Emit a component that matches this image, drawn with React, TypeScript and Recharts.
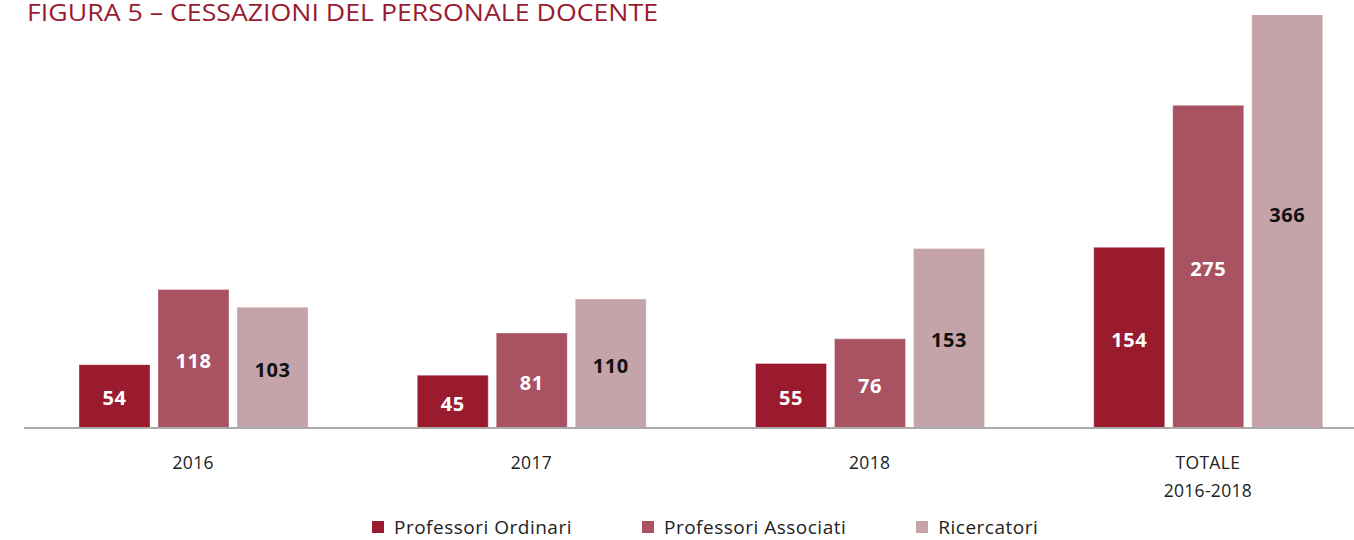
import React from "react";
import { BarChart, Bar, XAxis, YAxis, LabelList, Legend } from "recharts";

const categories = ["2016", "2017", "2018", "TOTALE\n2016-2018"];
const ordinari = [54, 45, 55, 154];
const associati = [118, 81, 76, 275];
const ricercatori = [103, 110, 153, 366];
const seriesNames = ["Professori Ordinari", "Professori Associati", "Ricercatori"];
const title = "FIGURA 5 – CESSAZIONI DEL PERSONALE DOCENTE";

const colors = ["#9A1B2E", "#A85262", "#C4A3A9"];
const FONT = "'Open Sans', sans-serif";

const data = categories.map((c, i) => ({
  cat: c,
  ord: ordinari[i],
  ass: associati[i],
  ric: ricercatori[i],
}));

const Tick = (props: any) => {
  const { x, y, payload } = props;
  const lines = String(payload.value).split("\n");
  return (
    <g transform={`translate(${x},${y})`}>
      {lines.map((l, i) => (
        <text
          key={i}
          x={0}
          y={33 + i * 28}
          textAnchor="middle"
          fill="#222"
          fontSize={17.5}
          letterSpacing={0.3}
          fontFamily={FONT}
        >
          {l}
        </text>
      ))}
    </g>
  );
};

const LegendContent = () => (
  <div
    style={{
      display: "flex",
      alignItems: "center",
      boxSizing: "border-box",
      paddingLeft: 372,
      paddingTop: 3,
      fontFamily: FONT,
      fontSize: 19,
      letterSpacing: 0.5,
      color: "#222",
      height: 30,
    }}
  >
    {seriesNames.map((n, i) => (
      <div key={n} style={{ display: "flex", alignItems: "center", marginRight: 70 }}>
        <span style={{ width: 12, height: 12, background: colors[i], display: "inline-block", marginRight: 10 }} />
        <span>{n}</span>
      </div>
    ))}
  </div>
);

const labelStyle = { fontSize: 20, fontWeight: "bold" as const, fontFamily: FONT, letterSpacing: 0.5 };

export default function App() {
  return (
    <div style={{ position: "absolute", left: 0, top: 0, width: 1354, height: 540, overflow: "hidden", background: "#fff" }}>
      <svg width={1354} height={30} style={{ position: "absolute", left: 0, top: 0, zIndex: 2 }}>
        <text
          x={27}
          y={21}
          fill="#9A1B30"
          fontSize={23}
          fontFamily={FONT}
          textLength={631}
          lengthAdjust="spacingAndGlyphs"
        >
          {title}
        </text>
      </svg>
      <BarChart
        width={1380}
        height={540}
        data={data}
        margin={{ top: 15, left: 24, right: 3, bottom: 0 }}
        barSize={71}
        barGap={8}
      >
        <XAxis
          dataKey="cat"
          axisLine={{ stroke: "#aaa", strokeWidth: 2 }}
          tickLine={false}
          height={82}
          tick={<Tick />}
          interval={0}
        />
        <YAxis hide domain={[0, 352]} allowDataOverflow />
        <Legend verticalAlign="bottom" height={30} content={<LegendContent />} wrapperStyle={{ left: 0, width: 1380 }} />
        <Bar dataKey="ord" name={seriesNames[0]} fill={colors[0]} stroke="rgba(255,255,255,0.35)" isAnimationActive={false}>
          <LabelList dataKey="ord" position="center" fill="#fff" {...labelStyle} dy={2} />
        </Bar>
        <Bar dataKey="ass" name={seriesNames[1]} fill={colors[1]} stroke="rgba(255,255,255,0.35)" isAnimationActive={false}>
          <LabelList dataKey="ass" position="center" fill="#fff" {...labelStyle} dy={2} />
        </Bar>
        <Bar dataKey="ric" name={seriesNames[2]} fill={colors[2]} stroke="rgba(255,255,255,0.35)" isAnimationActive={false}>
          <LabelList dataKey="ric" position="center" fill="#111" {...labelStyle} dy={2} />
        </Bar>
      </BarChart>
    </div>
  );
}
